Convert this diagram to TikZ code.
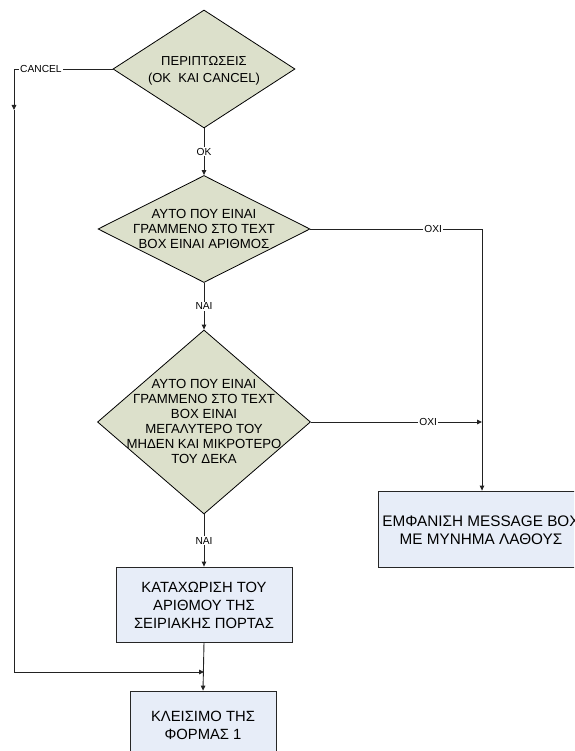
\documentclass[tikz,border=0pt]{standalone}
\usepackage{fontspec}
\setmainfont{Liberation Sans}
\usetikzlibrary{shapes.geometric,arrows.meta}
\definecolor{decfill}{HTML}{DCE0CB}
\definecolor{procfill}{HTML}{E7EDF8}
\definecolor{lncol}{HTML}{222222}
\begin{document}
\begin{tikzpicture}[x=1pt,y=-1pt,
  dec/.style={diamond, draw=black, fill=decfill, line width=0.8pt, inner sep=0pt},
  proc/.style={rectangle, draw=black!85, fill=procfill, line width=0.8pt, inner sep=0pt},
  txt/.style={align=center, font=\fontsize{13.2}{15}\selectfont, inner sep=0pt},
  btxt/.style={align=center, font=\fontsize{14.8}{18}\selectfont, inner sep=0pt},
  lbl/.style={fill=white, inner sep=1pt, font=\fontsize{10.2}{11}\selectfont},
  conn/.style={draw=lncol, line width=0.9pt, -{Triangle[length=5pt,width=4.5pt]}}]
\clip (0,0) rectangle (574,751);
\fill[white] (0,0) rectangle (574,751);
% shapes
\node[dec, minimum width=182pt, minimum height=118pt] (d1) at (204,69) {};
\node[dec, minimum width=212pt, minimum height=107pt] (d2) at (204,229) {};
\node[dec, minimum width=213pt, minimum height=184pt] (d3) at (204,422) {};
\node[proc, minimum width=176pt, minimum height=75pt] (b1) at (204,604.5) {};
\node[proc, minimum width=146pt, minimum height=66pt] (b2) at (203,724) {};
\node[proc, minimum width=204pt, minimum height=76pt] (msg) at (480,529) {};
% texts
\node[txt, font=\fontsize{13}{17}\selectfont] (t1) at (204,71) {ΠΕΡΙΠΤΩΣΕΙΣ\\(OK\ \ ΚΑΙ CANCEL)};
\node[txt] (t2) at (204,229) {ΑΥΤΟ ΠΟΥ ΕΙΝΑΙ\\ΓΡΑΜΜΕΝΟ ΣΤΟ TEXT\\BOX ΕΙΝΑΙ ΑΡΙΘΜΟΣ};
\node[txt] (t3) at (204,421) {ΑΥΤΟ ΠΟΥ ΕΙΝΑΙ\\ΓΡΑΜΜΕΝΟ ΣΤΟ TEXT\\BOX ΕΙΝΑΙ\\ΜΕΓΑΛΥΤΕΡΟ ΤΟΥ\\ΜΗΔΕΝ ΚΑΙ ΜΙΚΡΟΤΕΡΟ\\ΤΟΥ ΔΕΚΑ};
\node[btxt] (t4) at (204,605) {ΚΑΤΑΧΩΡΙΣΗ ΤΟΥ\\ΑΡΙΘΜΟΥ ΤΗΣ\\ΣΕΙΡΙΑΚΗΣ ΠΟΡΤΑΣ};
\node[btxt] (t5) at (203,725) {ΚΛΕΙΣΙΜΟ ΤΗΣ\\ΦΟΡΜΑΣ 1};
\node[btxt, font=\fontsize{15.3}{18}\selectfont] (t6) at (481,530) {ΕΜΦΑΝΙΣΗ MESSAGE BOX\\ΜΕ ΜΥΝΗΜΑ ΛΑΘΟΥΣ};
% connectors
\coordinate (c1) at (14,69);
\coordinate (c2) at (14,110);
\coordinate (c3) at (14,672);
\coordinate (j1) at (204,672);
\coordinate (c4) at (482,229);
\coordinate (c5) at (482,422);
\draw[conn] (d1.west) -- node[lbl,pos=0.727]{CANCEL} (c1) -- (c2);
\draw[conn] (c2) -- (c3) -- (j1);
\draw[conn] (d1.south) -- node[lbl]{OK} (d2.north);
\draw[conn] (d2.east) -- node[lbl,pos=0.715]{ΟΧΙ} (c4) -- (c4 |- msg.north);
\draw[conn] (d2.south) -- node[lbl]{ΝΑΙ} (d3.north);
\draw[conn] (d3.east) -- node[lbl,pos=0.686]{ΟΧΙ} (c5);
\draw[conn] (d3.south) -- node[lbl]{ΝΑΙ} (b1.north);
\draw[conn] (b1.south) -- (b2.north);
\end{tikzpicture}
\end{document}
